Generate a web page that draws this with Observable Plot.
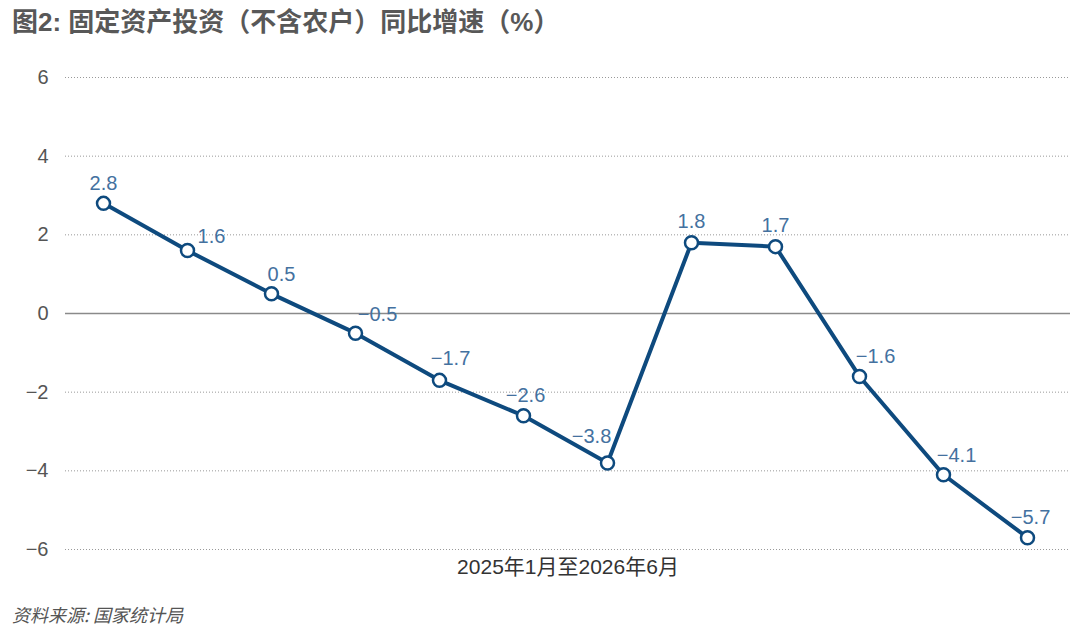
<!DOCTYPE html>
<html>
<head>
<meta charset="utf-8">
<script src="https://cdn.jsdelivr.net/npm/d3@7"></script>
<script src="https://cdn.jsdelivr.net/npm/@observablehq/plot@0.6"></script>
<style>
  html, body { margin: 0; padding: 0; background: #fff; }
  body { width: 1080px; height: 640px; overflow: hidden; font-family: "Liberation Sans", "Noto Sans CJK SC", sans-serif; }
  #title { height: 50px; box-sizing: border-box; padding: 6px 0 0 12px; font-size: 26px; line-height: 32px; font-weight: bold; color: #585858; font-family: "Liberation Sans", "Noto Sans CJK SC", sans-serif; white-space: nowrap; }
  #chart { height: 540px; }
  #source { padding: 12px 0 0 12px; font-size: 18px; line-height: 24px; color: #555; font-style: italic; font-family: "Noto Sans CJK SC", sans-serif; }
</style>
</head>
<body>
<div id="title"></div>
<div id="chart"></div>
<div id="source"></div>
<script>
const titleText = "图2: 固定资产投资（不含农户）同比增速（%）";
const xLabel = "2025年1月至2026年6月";
const sourceText = "资料来源: 国家统计局";
const periods = ["P1","P2","P3","P4","P5","P6","P7","P8","P9","P10","P11","P12"];
const growth = [2.8, 1.6, 0.5, -0.5, -1.7, -2.6, -3.8, 1.8, 1.7, -1.6, -4.1, -5.7];
const yTicks = [-6, -4, -2, 0, 2, 4, 6];

document.getElementById("title").textContent = titleText;
document.getElementById("source").textContent = sourceText;

const data = periods.map((p, i) => ({period: p, value: growth[i]}));

// label offsets (pixels) relative to each point
const labelOffsets = [
  [0, -20], [24, -14], [10, -19], [22, -19], [11, -22], [2, -20],
  [-16, -26], [0, -21], [0, -21], [16, -20], [13, -19], [3, -20]
];
const fmt = v => (v < 0 ? "\u2212" + Math.abs(v).toFixed(1) : v.toFixed(1));

const blue = "#0e4a7e";
const labelColor = "#44719f";

const labelMarks = data.map((d, i) => Plot.text([d], {
  x: "period", y: "value", text: dd => fmt(dd.value),
  dx: labelOffsets[i][0], dy: labelOffsets[i][1],
  fill: labelColor, fontSize: 20, textAnchor: "middle"
}));

const chart = Plot.plot({
  width: 1080,
  height: 540,
  marginLeft: 65,
  marginRight: 10,
  marginTop: 27,
  marginBottom: 41,
  style: {fontFamily: "'Liberation Sans', 'Noto Sans CJK SC', sans-serif", background: "#fff"},
  x: {type: "point", domain: periods, padding: 0, insetLeft: 37, insetRight: 43, axis: null},
  y: {domain: [-6, 6], ticks: yTicks, axis: null},
  marks: [
    Plot.ruleY(yTicks.filter(t => t !== 0), {stroke: "#999", strokeWidth: 1, strokeDasharray: "1,2"}),
    Plot.ruleY([0], {stroke: "#8a8a8a", strokeWidth: 1.5}),
    Plot.axisY(yTicks, {tickSize: 0, tickPadding: 17, fontSize: 20, fill: "#555", label: null}),
    Plot.line(data, {x: "period", y: "value", stroke: blue, strokeWidth: 4, strokeLinejoin: "round"}),
    Plot.dot(data, {x: "period", y: "value", r: 6.5, fill: "#fff", stroke: blue, strokeWidth: 2.5}),
    ...labelMarks,
    Plot.text([xLabel], {frameAnchor: "bottom", dy: 24, fontSize: 21, fill: "#333"})
  ]
});
document.getElementById("chart").appendChild(chart);
</script>
</body>
</html>
